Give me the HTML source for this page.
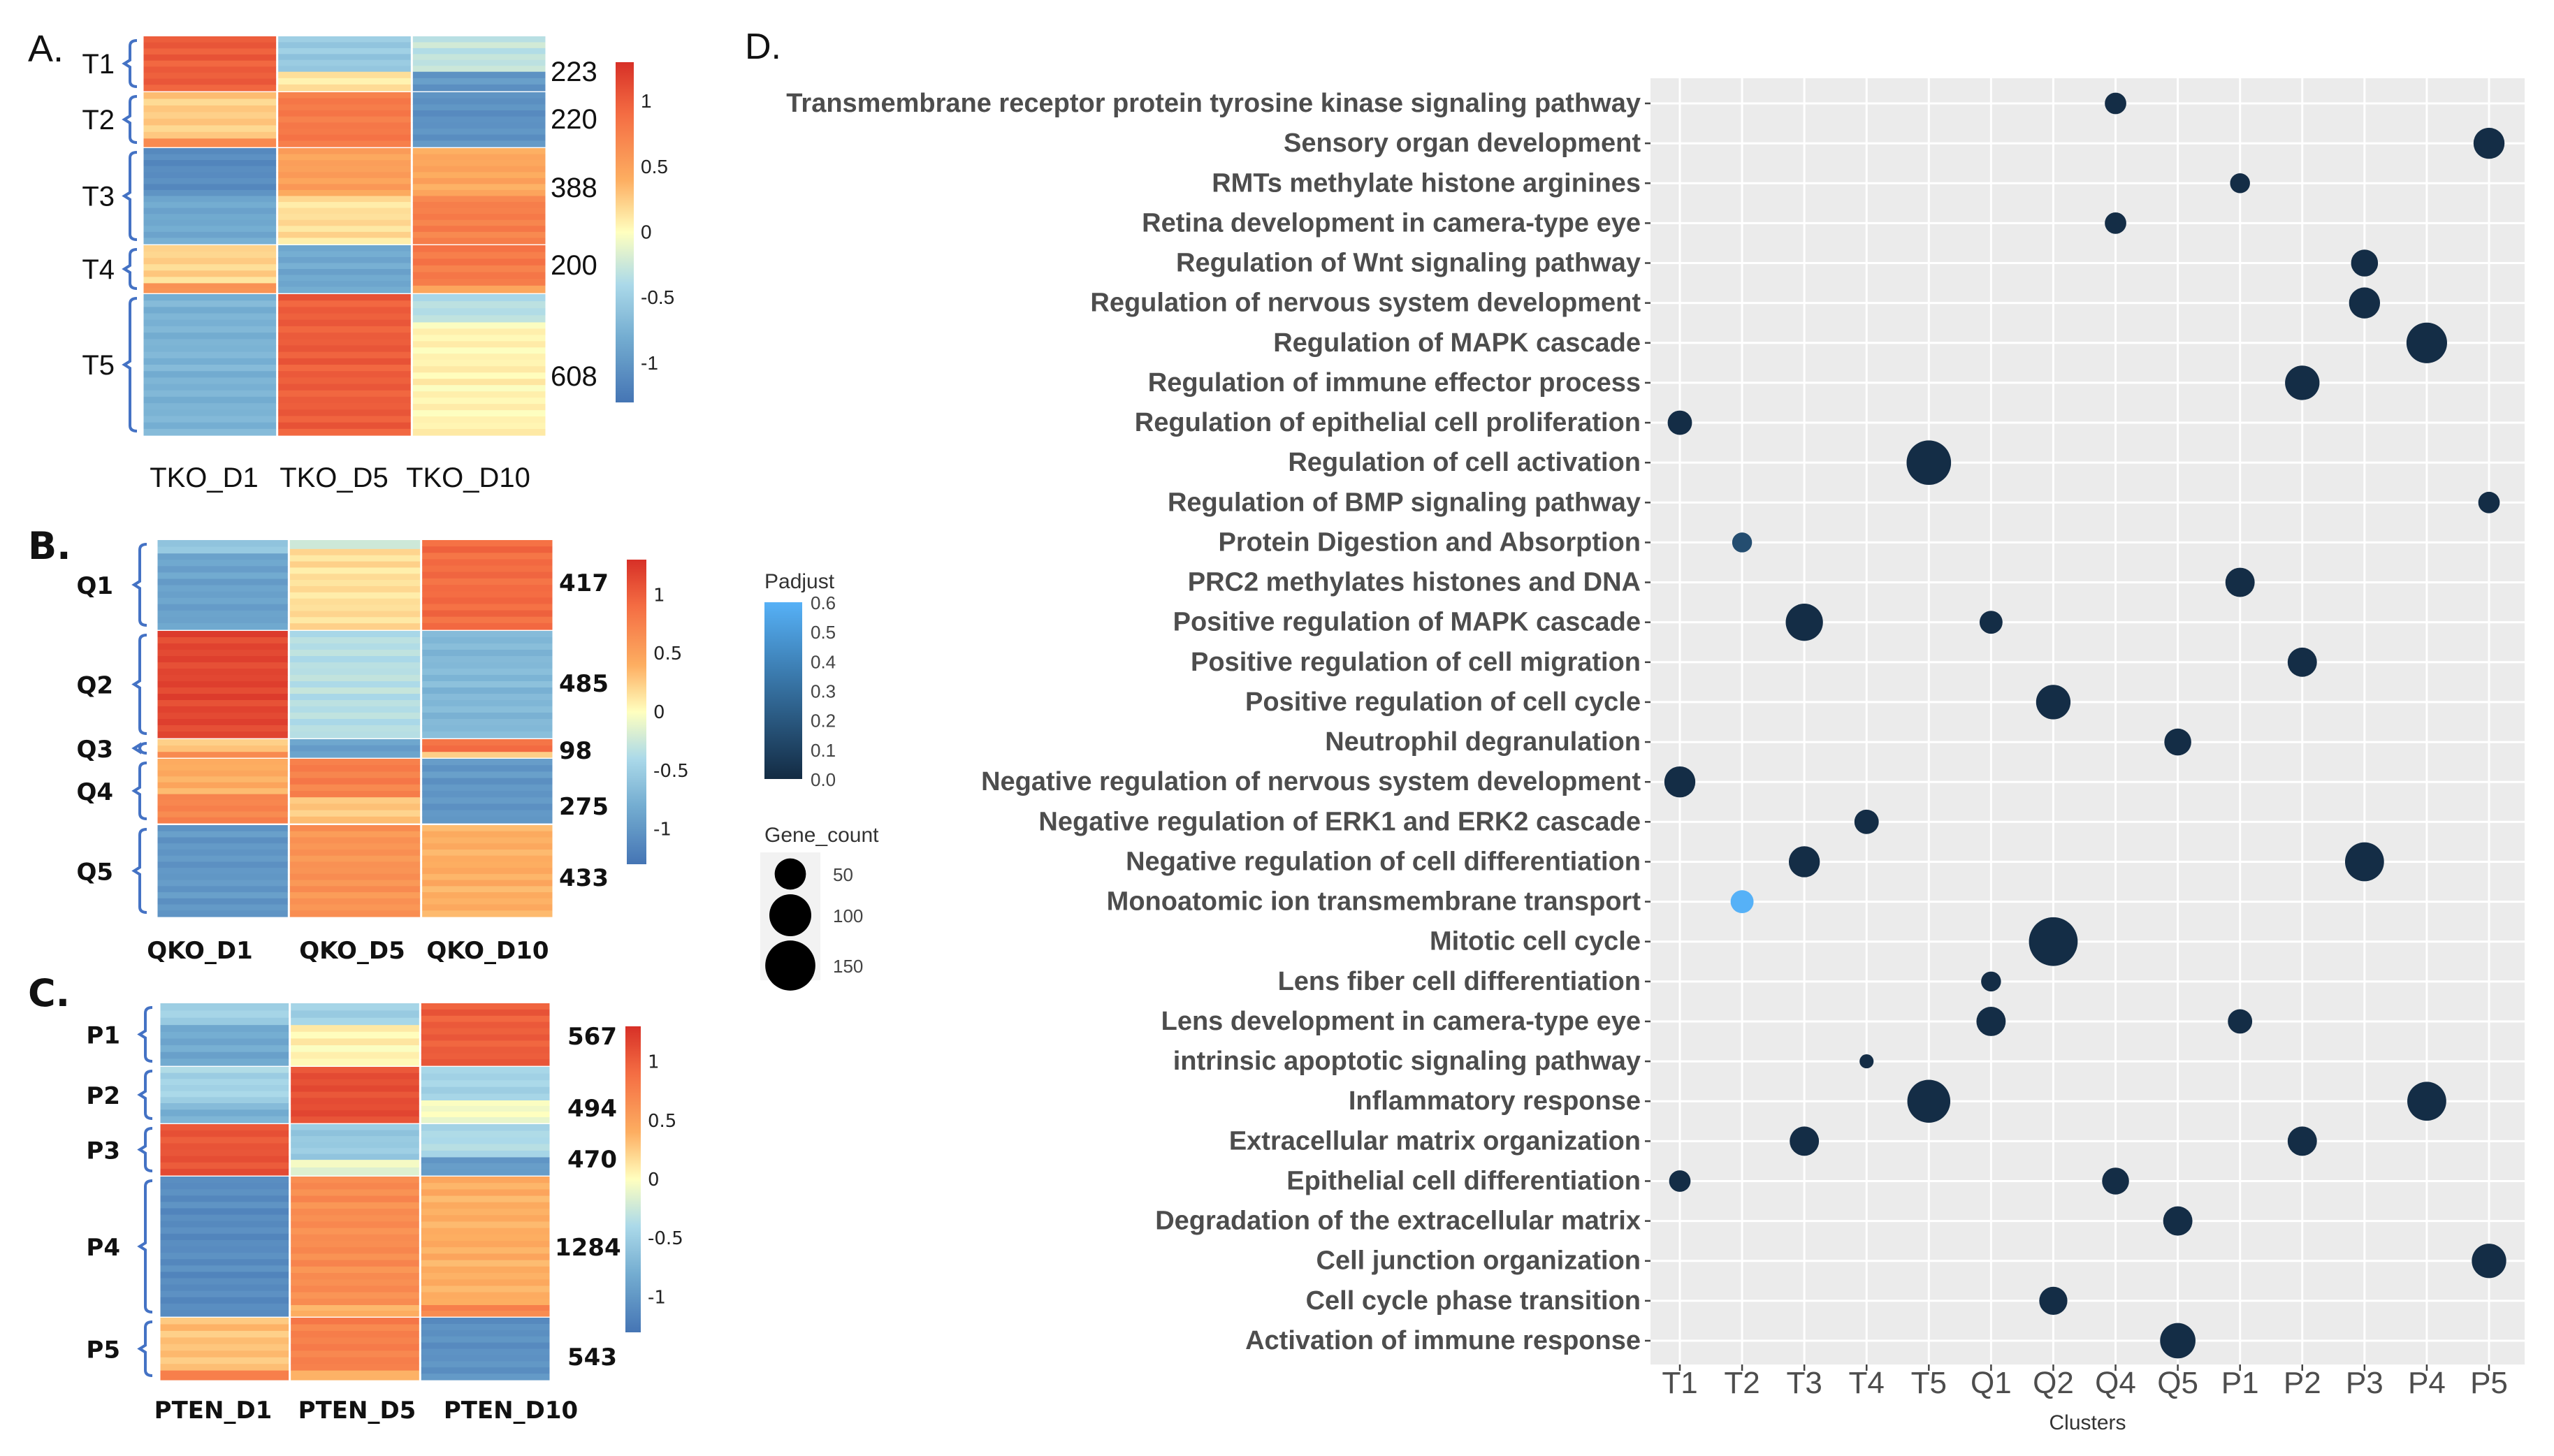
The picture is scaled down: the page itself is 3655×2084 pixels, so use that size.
<!DOCTYPE html>
<html><head><meta charset="utf-8"><style>
html,body{margin:0;padding:0;background:#fff;}
svg{display:block;}
.lab{font-family:"Liberation Sans",sans-serif;}
.dv{font-family:"DejaVu Sans","Liberation Sans",sans-serif;}
</style></head><body>
<svg id="fig" width="3655" height="2084" viewBox="0 0 3655 2084" xmlns="http://www.w3.org/2000/svg">
<g id="hm"></g><g id="dot"></g>
</svg>
<script>
// ---------- heatmap data ----------
const hmAClusters = ["T1","T2","T3","T4","T5"];
const hmACounts = [223,220,388,200,608];
const hmASamples = ["TKO_D1","TKO_D5","TKO_D10"];
const hmAValues = [
 [[[1,1.0]], [[0.65,-0.55],[0.35,0.1]], [[0.65,-0.3],[0.35,-1.0]]],
 [[[0.85,0.25],[0.15,0.6]], [[1,0.8]], [[1,-1.05]]],
 [[[0.5,-1.1],[0.5,-0.85]], [[0.5,0.5],[0.5,0.15]], [[0.5,0.45],[0.5,0.75]]],
 [[[0.8,0.2],[0.2,0.6]], [[1,-0.85]], [[0.85,0.8],[0.15,0.4]]],
 [[[1,-0.75]], [[1,1.0]], [[0.2,-0.35],[0.8,0.05]]]
];
const hmBClusters = ["Q1","Q2","Q3","Q4","Q5"];
const hmBCounts = [417,485,98,275,433];
const hmBSamples = ["QKO_D1","QKO_D5","QKO_D10"];
const hmBValues = [
 [[[0.15,-0.6],[0.85,-0.9]], [[0.1,-0.3],[0.9,0.15]], [[1,0.9]]],
 [[[1,1.15]], [[1,-0.35]], [[1,-0.7]]],
 [[[0.7,0.25],[0.3,0.7]], [[1,-0.9]], [[0.7,0.9],[0.3,0.3]]],
 [[[0.55,0.4],[0.45,0.7]], [[0.6,0.75],[0.4,0.25]], [[1,-1.0]]],
 [[[1,-1.0]], [[1,0.6]], [[1,0.4]]]
];
const hmCClusters = ["P1","P2","P3","P4","P5"];
const hmCCounts = [567,494,470,1284,543];
const hmCSamples = ["PTEN_D1","PTEN_D5","PTEN_D10"];
const hmCValues = [
 [[[0.35,-0.5],[0.65,-0.85]], [[0.35,-0.5],[0.65,0.05]], [[1,1.0]]],
 [[[0.65,-0.45],[0.35,-0.75]], [[1,1.1]], [[0.6,-0.45],[0.4,-0.05]]],
 [[[1,1.05]], [[0.7,-0.55],[0.3,-0.1]], [[0.65,-0.4],[0.35,-0.95]]],
 [[[1,-1.1]], [[0.92,0.65],[0.08,0.35]], [[0.92,0.4],[0.08,0.7]]],
 [[[0.85,0.3],[0.15,0.8]], [[0.85,0.75],[0.15,0.3]], [[1,-1.05]]]
];
const cbTicks = [1,0.5,0,-0.5,-1];

// ---------- dot plot data ----------
const terms = ["Transmembrane receptor protein tyrosine kinase signaling pathway","Sensory organ development","RMTs methylate histone arginines","Retina development in camera-type eye","Regulation of Wnt signaling pathway","Regulation of nervous system development","Regulation of MAPK cascade","Regulation of immune effector process","Regulation of epithelial cell proliferation","Regulation of cell activation","Regulation of BMP signaling pathway","Protein Digestion and Absorption","PRC2 methylates histones and DNA","Positive regulation of MAPK cascade","Positive regulation of cell migration","Positive regulation of cell cycle","Neutrophil degranulation","Negative regulation of nervous system development","Negative regulation of ERK1 and ERK2 cascade","Negative regulation of cell differentiation","Monoatomic ion transmembrane transport","Mitotic cell cycle","Lens fiber cell differentiation","Lens development in camera-type eye","intrinsic apoptotic signaling pathway","Inflammatory response","Extracellular matrix organization","Epithelial cell differentiation","Degradation of the extracellular matrix","Cell junction organization","Cell cycle phase transition","Activation of immune response"];
const clusters = ["T1","T2","T3","T4","T5","Q1","Q2","Q4","Q5","P1","P2","P3","P4","P5"];
const dotTerm = [0,1,2,3,4,5,6,7,8,9,10,11,12,13,13,14,15,16,17,18,19,19,20,21,22,23,23,24,25,25,26,26,27,27,28,29,30,31];
const dotCluster = ["Q4","P5","P1","Q4","P3","P3","P4","P2","T1","T5","P5","T2","P1","T3","Q1","P2","Q2","Q5","T1","T4","T3","P3","T2","Q2","Q1","Q1","P1","T4","T5","P4","T3","P2","T1","Q4","Q5","P5","Q2","Q5"];
const dotCount = [35,73,30,35,55,73,125,90,45,150,35,30,65,105,40,65,90,55,73,45,73,115,40,180,30,65,45,15,140,115,65,65,35,55,65,90,60,95];
const dotPadj = [0.01,0.01,0.01,0.01,0.01,0.01,0.01,0.01,0.01,0.01,0.01,0.15,0.01,0.01,0.01,0.01,0.01,0.01,0.01,0.01,0.01,0.01,0.6,0.01,0.01,0.01,0.01,0.01,0.01,0.01,0.01,0.01,0.01,0.01,0.01,0.01,0.01,0.01];
const padjTicks = ["0.6","0.5","0.4","0.3","0.2","0.1","0.0"];
const sizeLegend = [50,100,150];

const NS="http://www.w3.org/2000/svg";
function el(tag, attrs, parent, text){
  const e=document.createElementNS(NS,tag);
  for(const k in attrs) e.setAttribute(k,attrs[k]);
  if(text!==undefined) e.textContent=text;
  parent.appendChild(e); return e;
}
const stops=[[-1.3,[69,117,180]],[-0.8,[116,173,209]],[-0.4,[171,217,233]],[0,[255,255,191]],[0.4,[253,174,97]],[0.9,[244,109,67]],[1.3,[215,48,39]]];
function hmColor(v){
  if(v<=stops[0][0]) return `rgb(${stops[0][1]})`;
  for(let i=1;i<stops.length;i++){ if(v<=stops[i][0]){const a=stops[i-1],b=stops[i];const t=(v-a[0])/(b[0]-a[0]);
    return `rgb(${a[1].map((c,j)=>Math.round(c+(b[1][j]-c)*t)).join(',')})`;}}
  return `rgb(${stops[stops.length-1][1]})`;
}
const stripe=[0,0.06,-0.04,0.08,-0.07,0.03,-0.02,0.05,-0.06,0.02];
const hmG=document.getElementById('hm');

function heatmap(cfg){
  const g=el('g',{},hmG);
  
  
  const bold=cfg.fontClass==='dv'?'bold':'normal';
  const t=el('text',{x:cfg.letterX,y:cfg.letterY,'font-size':54,'class':cfg.fontClass,fill:'#111','font-weight':bold},g,cfg.letter);
  
  
  const colW=(cfg.x1-cfg.x0)/3;
  cfg.clusters.forEach((cl,ri)=>{
    const y0=cfg.rows[ri][0], y1=cfg.rows[ri][1];
    cfg.values[ri].forEach((cell,ci)=>{
      const cx=cfg.x0+ci*colW;
      let yy=y0;
      cell.forEach(([f,v])=>{
        const h=(y1-y0)*f;
        const n=Math.max(1,Math.round(h/9));
        for(let k=0;k<n;k++){
          const r=el('rect',{x:cx+1.5,y:yy+k*h/n,width:colW-3,height:h/n+0.6,fill:hmColor(v+stripe[(k+ri*3+ci)%stripe.length])},g);
          
          
        }
        yy+=h;
      });
    });
    const ym=(y0+y1)/2;
    const bx=cfg.brX, top=y0+6, bot=y1-6;
    const br=el('path',{d:`M${bx+10},${top} Q${bx},${top} ${bx},${top+8} L${bx},${ym-5} L${bx-8},${ym} L${bx},${ym+5} L${bx},${bot-8} Q${bx},${bot} ${bx+10},${bot}`,fill:'none',stroke:'#4472c4','stroke-width':4},g);
    
    
    const lt=el('text',{x:cfg.rlX,y:ym+cfg.labelDy,'font-size':cfg.fs,'text-anchor':'end','class':cfg.fontClass,'font-weight':bold,fill:'#111'},g,cl);
    
    
    const cnt=String(cfg.counts[ri]);
    const ct=el('text',{x:cfg.cntX-(cnt.length>3?18:0),y:cfg.cntY[ri],'font-size':cfg.fs,'class':cfg.fontClass,'font-weight':bold,fill:'#111'},g,cnt);
    
    
  });
  cfg.samples.forEach((s,ci)=>{
    const st=el('text',{x:cfg.sampleX[ci],y:cfg.sampleY,'font-size':cfg.fs,'text-anchor':'middle','class':cfg.fontClass,'font-weight':bold,fill:'#111'},g,s);
    
    
  });
  const cb=cfg.cb;
  const gid='cbg'+cfg.letter[0];
  const defs=el('defs',{},g);
  const lg=el('linearGradient',{id:gid,x1:0,y1:1,x2:0,y2:0},defs);
  for(let v=-1.3;v<=1.31;v+=0.1){el('stop',{offset:((v+1.3)/2.6).toFixed(3),'stop-color':hmColor(v)},lg);}
  const cbr=el('rect',{x:cb.x,y:cb.y0,width:cb.w,height:cb.y1-cb.y0,fill:`url(#${gid})`},g);
  
  
  const vToY=v=>cb.y1-(v+1.3)/2.6*(cb.y1-cb.y0);
  cbTicks.forEach(v=>{
    const tt=el('text',{x:cb.x+cb.w+10,y:vToY(v)+9,'font-size':cb.fs,'class':cfg.fontClass,fill:'#222'},g,String(v));
    
    
  });
}
heatmap({name:'heatmap-tko',letter:'A.',letterX:40,letterY:88,fontClass:'lab',fs:40,labelDy:14,
  clusters:hmAClusters,counts:hmACounts,samples:hmASamples,values:hmAValues,
  x0:204,x1:782,rows:[[52,130],[132,210],[212,349],[351,419],[421,623]],
  brX:186,rlX:164,cntX:788,cntY:[116,184,282,393,552],sampleY:697,sampleX:[292,478,670],
  cb:{x:881,w:26,y0:89,y1:576,fs:28}});
heatmap({name:'heatmap-qko',letter:'B.',letterX:40,letterY:800,fontClass:'dv',fs:34,labelDy:13,
  clusters:hmBClusters,counts:hmBCounts,samples:hmBSamples,values:hmBValues,
  x0:224,x1:792,rows:[[773,901],[903,1056],[1058,1084],[1086,1178],[1181,1312]],
  brX:200,rlX:162,cntX:800,cntY:[846,990,1086,1166,1268],sampleY:1372,sampleX:[286,504,698],
  cb:{x:897,w:28,y0:801,y1:1237,fs:26}});
heatmap({name:'heatmap-pten',letter:'C.',letterX:40,letterY:1440,fontClass:'dv',fs:34,labelDy:13,
  clusters:hmCClusters,counts:hmCCounts,samples:hmCSamples,values:hmCValues,
  x0:228,x1:788,rows:[[1436,1525],[1527,1607],[1609,1682],[1684,1884],[1886,1975]],
  brX:208,rlX:172,cntX:812,cntY:[1495,1598,1671,1797,1954],sampleY:2030,sampleX:[305,511,731],
  cb:{x:895,w:22,y0:1469,y1:1907,fs:26}});

// ---------- dot plot ----------
const dg=document.getElementById('dot');
const P={x0:2362,x1:3613,y0:112,y1:1953};
const xPos=c=>2404+clusters.indexOf(c)*(3562-2404)/(clusters.length-1);
const yPos=i=>148+i*(1919-148)/(terms.length-1);
const rScale=c=>2.6*Math.sqrt(c);
function padjColor(p){const a=[19,43,67],b=[86,177,247];const t=p/0.6;return `rgb(${a.map((c,j)=>Math.round(c+(b[j]-c)*t)).join(',')})`;}
const dl=el('text',{x:1066,y:84,'font-size':52,'class':'lab',fill:'#111'},dg,'D.');


const bg=el('rect',{x:P.x0,y:P.y0,width:P.x1-P.x0,height:P.y1-P.y0,fill:'#ebebeb'},dg);


terms.forEach((t,i)=>{
  const y=yPos(i);
  const gl=el('line',{x1:P.x0,x2:P.x1,y1:y,y2:y,stroke:'#fff','stroke-width':3},dg);
  
  
  const tk=el('line',{x1:P.x0-8,x2:P.x0,y1:y,y2:y,stroke:'#444','stroke-width':2.5},dg);
  
  
  const tl=el('text',{x:P.x0-14,y:y+12,'font-size':38,'font-weight':'bold','text-anchor':'end','class':'lab',fill:'#4d4d4d'},dg,t);
  
  
});
clusters.forEach(c=>{
  const x=xPos(c);
  const gl=el('line',{x1:x,x2:x,y1:P.y0,y2:P.y1,stroke:'#fff','stroke-width':3},dg);
  
  
  const tk=el('line',{x1:x,x2:x,y1:P.y1,y2:P.y1+9,stroke:'#444','stroke-width':2.5},dg);
  
  
  const tl=el('text',{x:x,y:1994,'font-size':44,'text-anchor':'middle','class':'lab',fill:'#4d4d4d'},dg,c);
  
  
});
const xt=el('text',{x:(P.x0+P.x1)/2,y:2046,'font-size':30,'text-anchor':'middle','class':'lab',fill:'#333'},dg,'Clusters');


dotTerm.forEach((ti,k)=>{
  const d=el('circle',{cx:xPos(dotCluster[k]),cy:yPos(ti),r:rScale(dotCount[k]),fill:padjColor(dotPadj[k])},dg);
  
  
});
const lt1=el('text',{x:1094,y:842,'font-size':30,'class':'lab',fill:'#333'},dg,'Padjust');


const defs=el('defs',{},dg);
const pg=el('linearGradient',{id:'padjg',x1:0,y1:1,x2:0,y2:0},defs);
el('stop',{offset:0,'stop-color':padjColor(0)},pg);
el('stop',{offset:1,'stop-color':padjColor(0.6)},pg);
const pb=el('rect',{x:1094,y:862,width:54,height:253,fill:'url(#padjg)'},dg);


padjTicks.forEach((t,i)=>{
  const y=862+i*253/6;
  const pt=el('text',{x:1160,y:y+10,'font-size':26,'class':'lab',fill:'#444'},dg,t);
  
  
});
const lt2=el('text',{x:1094,y:1205,'font-size':30,'class':'lab',fill:'#333'},dg,'Gene_count');


const kb=el('rect',{x:1088,y:1220,width:86,height:183,fill:'#f2f2f2'},dg);


const sy=[1251,1310,1382];
sizeLegend.forEach((s,i)=>{
  const c=el('circle',{cx:1131,cy:sy[i],r:rScale(s)+4,fill:'#000'},dg);
  
  
  const st=el('text',{x:1192,y:sy[i]+10,'font-size':26,'class':'lab',fill:'#444'},dg,String(s));
  
  
});
</script>
</body></html>
